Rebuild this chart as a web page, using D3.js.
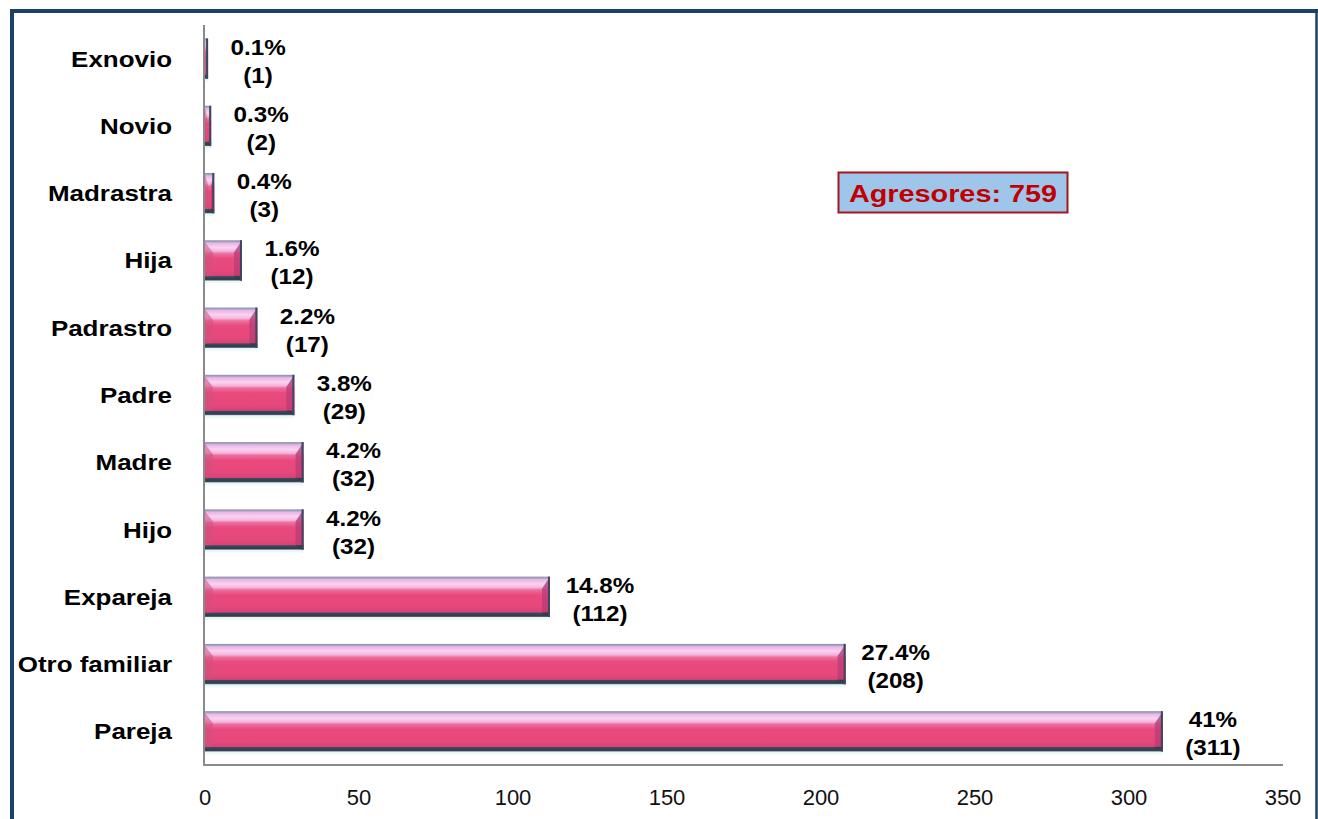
<!DOCTYPE html>
<html>
<head>
<meta charset="utf-8">
<script src="https://cdn.jsdelivr.net/npm/d3@7/dist/d3.min.js"></script>
<style>
  html, body { margin: 0; padding: 0; background: #ffffff; }
  svg { display: block; }
  text { font-family: Arial, "Liberation Sans", sans-serif; }
</style>
</head>
<body>
<svg id="chart" width="1318" height="819"></svg>
<script>
// ---- data (top to bottom) ----
const categories = ["Exnovio", "Novio", "Madrastra", "Hija", "Padrastro", "Padre", "Madre", "Hijo", "Expareja", "Otro familiar", "Pareja"];
const counts = [1, 2, 3, 12, 17, 29, 32, 32, 112, 208, 311];
const percentLabels = ["0.1%", "0.3%", "0.4%", "1.6%", "2.2%", "3.8%", "4.2%", "4.2%", "14.8%", "27.4%", "41%"];
const xTicks = [0, 50, 100, 150, 200, 250, 300, 350];
const totalLabel = "Agresores: 759";

const W = 1318, H = 819;
const svg = d3.select("#chart");

// frame
svg.append("rect").attr("x", 0).attr("y", 0).attr("width", W).attr("height", H).attr("fill", "#ffffff");
const frameColor = "#1b4266";
svg.append("line").attr("x1", 10).attr("x2", W).attr("y1", 11).attr("y2", 11).attr("stroke", frameColor).attr("stroke-width", 4);
svg.append("line").attr("x1", 12).attr("x2", 12).attr("y1", 9).attr("y2", H).attr("stroke", frameColor).attr("stroke-width", 4);
svg.append("line").attr("x1", 1316.5).attr("x2", 1316.5).attr("y1", 9).attr("y2", H).attr("stroke", frameColor).attr("stroke-width", 2.5);

// scales
const x = d3.scaleLinear().domain([0, 350]).range([205, 1283]);
const y = d3.scaleBand().domain(categories).range([25, 765]).paddingInner(0.4).paddingOuter(0.2);

// gradients
const defs = svg.append("defs");
const g1 = defs.append("linearGradient").attr("id", "barGrad").attr("x1", 0).attr("y1", 0).attr("x2", 0).attr("y2", 1);
[
  [0, "#8a90a6"], [0.04, "#a9a3c4"], [0.07, "#eab4e6"], [0.18, "#f9d3f2"], [0.27, "#f5b4dc"],
  [0.33, "#ec6e9c"], [0.45, "#e84a7e"], [0.75, "#e6487c"], [0.88, "#d84276"],
  [0.9, "#3c4a5c"], [0.97, "#2e3c4c"], [1, "#6a7686"]
].forEach(([o, c]) => g1.append("stop").attr("offset", o).attr("stop-color", c));

const g2 = defs.append("linearGradient").attr("id", "capGrad").attr("x1", 0).attr("y1", 0).attr("x2", 0).attr("y2", 1);
[
  [0, "#7a6a9a"], [0.3, "#c0407a"], [0.87, "#c03a6e"], [0.9, "#2e3c4c"], [1, "#2e3c4c"]
].forEach(([o, c]) => g2.append("stop").attr("offset", o).attr("stop-color", c));

const g3 = defs.append("linearGradient").attr("id", "glowGrad").attr("x1", 0).attr("y1", 0).attr("x2", 0).attr("y2", 1);
[[0, "#d8f0f0"], [1, "#ffffff"]].forEach(([o, c]) => g3.append("stop").attr("offset", o).attr("stop-color", c));

// y axis line
svg.append("line").attr("x1", 204).attr("x2", 204).attr("y1", 25).attr("y2", 766)
  .attr("stroke", "#8a8a8a").attr("stroke-width", 2);

// bars
const bars = svg.append("g").selectAll("g.bar").data(categories).join("g").attr("class", "bar");
bars.each(function(d, i) {
  const g = d3.select(this);
  const x0 = x(0), x1 = x(counts[i]);
  const top = y(d), h = y.bandwidth();
  const w = Math.max(x1 - x0, 2);
  g.append("rect").attr("x", x0).attr("y", top + h).attr("width", w).attr("height", 4)
    .attr("fill", "url(#glowGrad)").attr("opacity", 0.8);
  g.append("rect").attr("x", x0).attr("y", top).attr("width", w).attr("height", h)
    .attr("fill", "url(#barGrad)");
  const bev = Math.min(8, w / 3);
  g.append("path")
    .attr("d", `M${x0},${top + 2}L${x0 + bev},${top + h * 0.3}L${x0 + bev},${top + h * 0.88}L${x0},${top + h * 0.9}Z`)
    .attr("fill", "#d0507e").attr("opacity", 0.55);
  g.append("path")
    .attr("d", `M${x0 + w - bev},${top + h * 0.3}L${x0 + w},${top}L${x0 + w},${top + h}L${x0 + w - bev},${top + h * 0.9}Z`)
    .attr("fill", "url(#capGrad)").attr("opacity", 0.85);
  g.append("line").attr("x1", x0 + w - 1).attr("x2", x0 + w - 1).attr("y1", top).attr("y2", top + h)
    .attr("stroke", "#3e4660").attr("stroke-width", 2);
});

// x axis line
svg.append("line").attr("x1", 204).attr("x2", x(350)).attr("y1", 765).attr("y2", 765)
  .attr("stroke", "#8a8a8a").attr("stroke-width", 2);

// x tick labels
svg.append("g").selectAll("text").data(xTicks).join("text")
  .attr("x", d => x(d)).attr("y", 805)
  .attr("text-anchor", "middle").attr("font-size", 22).attr("fill", "#111")
  .text(d => d);

// category labels
svg.append("g").selectAll("text").data(categories).join("text")
  .attr("transform", d => `translate(172,${y(d) + y.bandwidth() / 2 + 8}) scale(1.18,1)`)
  .attr("text-anchor", "end").attr("font-size", 22).attr("font-weight", "bold").attr("fill", "#000")
  .text(d => d);

// value labels (two lines)
const vl = svg.append("g").selectAll("g").data(categories).join("g")
  .attr("transform", (d, i) => `translate(${x(counts[i]) + 50},${y(d) + y.bandwidth() / 2})`);
vl.append("text").attr("transform", "translate(0,-4) scale(1.1,1)")
  .attr("text-anchor", "middle").attr("font-size", 22).attr("font-weight", "bold").attr("fill", "#000")
  .text((d, i) => percentLabels[i]);
vl.append("text").attr("transform", "translate(0,24) scale(1.1,1)")
  .attr("text-anchor", "middle").attr("font-size", 22).attr("font-weight", "bold").attr("fill", "#000")
  .text((d, i) => `(${counts[i]})`);

// total box
svg.append("rect").attr("x", 838.5).attr("y", 172.5).attr("width", 229).attr("height", 40)
  .attr("fill", "#9fc6ea").attr("stroke", "#a3161c").attr("stroke-width", 2);
svg.append("text").attr("transform", "translate(953,202) scale(1.2,1)")
  .attr("text-anchor", "middle").attr("font-size", 24).attr("font-weight", "bold").attr("fill", "#c00000")
  .text(totalLabel);
</script>
</body>
</html>
